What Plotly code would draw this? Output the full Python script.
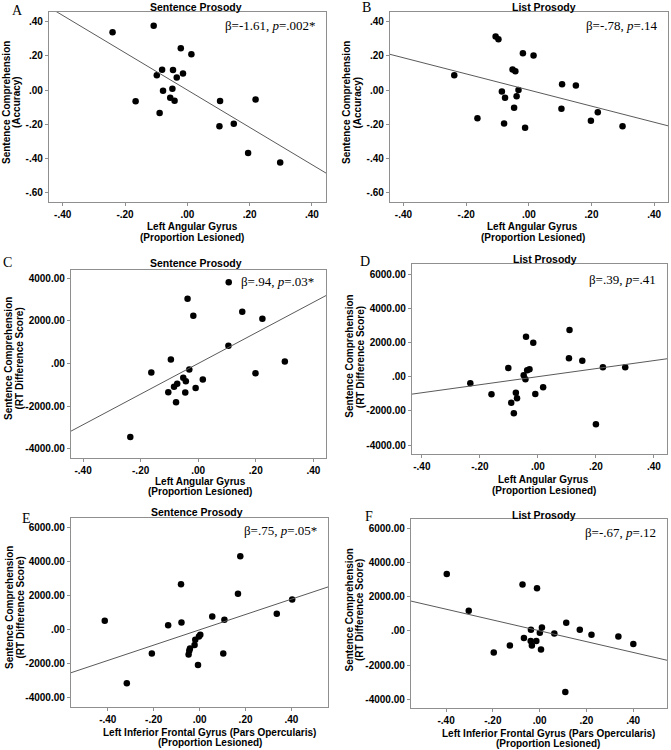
import numpy as np
import plotly.graph_objects as go

# ---------------- data ----------------
panel_letters = ["A", "B", "C", "D", "E", "F"]
panel_titles = ["Sentence Prosody", "List Prosody", "Sentence Prosody",
                "List Prosody", "Sentence Prosody", "List Prosody"]
stat_labels = ["β=-1.61, <i>p</i>=.002*", "β=-.78, <i>p</i>=.14",
               "β=.94, <i>p</i>=.03*", "β=.39, <i>p</i>=.41",
               "β=.75, <i>p</i>=.05*", "β=-.67, <i>p</i>=.12"]
x_titles = [["Left Angular Gyrus", "(Proportion Lesioned)"]] * 4 + \
           [["Left Inferior Frontal Gyrus (Pars Opercularis)", "(Proportion Lesioned)"]] * 2
y_titles = [["Sentence Comprehension", "(Accuracy)"]] * 2 + \
           [["Sentence Comprehension", "(RT Difference Score)"]] * 4

x_a = [-0.240, -0.108, -0.166, -0.089, -0.098, -0.081, -0.078, -0.046, -0.048, -0.055, -0.041,
       -0.034, -0.021, -0.014, 0.013, 0.105, 0.103, 0.149, 0.195, 0.219, 0.298]
y_a = [0.337, 0.376, -0.066, -0.134, 0.086, 0.119, -0.004, 0.117, 0.008, -0.045, -0.062,
       0.074, 0.244, 0.097, 0.209, -0.064, -0.212, -0.197, -0.368, -0.055, -0.423]

x_b = [-0.238, -0.164, -0.106, -0.097, -0.086, -0.079, -0.076, -0.052, -0.043, -0.047, -0.039,
       -0.033, -0.019, -0.012, 0.015, 0.106, 0.104, 0.150, 0.198, 0.220, 0.299]
y_b = [0.086, -0.164, 0.312, 0.296, -0.008, -0.195, -0.045, 0.119, 0.109, -0.103, -0.037,
       0.000, 0.214, -0.220, 0.201, 0.033, -0.109, 0.027, -0.179, -0.129, -0.211]

x_c = [-0.236, -0.163, -0.104, -0.095, -0.084, -0.077, -0.073, -0.052, -0.045, -0.043, -0.037,
       -0.031, -0.017, -0.009, 0.016, 0.106, 0.105, 0.153, 0.199, 0.223, 0.301]
y_c = [-3445, -423, -1347, 188, -1096, -1817, -955, -673, -1362, -830, 3038,
       -282, 2239, -1143, -752, 3805, 830, 2427, -454, 2098, 94]

x_d = [-0.233, -0.160, -0.102, -0.092, -0.083, -0.076, -0.072, -0.049, -0.043, -0.041, -0.037,
       -0.029, -0.016, -0.009, 0.018, 0.107, 0.109, 0.153, 0.200, 0.224, 0.301]
y_d = [-390, -1033, 507, -1520, -2144, -936, -1267, 78, -156, 2339, 370,
       429, 1988, -1013, -624, 1072, 2729, 935, -2787, 546, 546]

x_e = [-0.413, -0.317, -0.208, -0.137, -0.081, -0.079, -0.048, -0.042, -0.045, -0.022, -0.019,
       -0.007, -0.003, 0.003, 0.055, 0.108, 0.103, 0.167, 0.177, 0.336, 0.403]
y_e = [527, -3144, -1387, 273, 2676, 430, -1445, -1094, -1230, -898, -586,
       -2070, -391, -293, 781, 586, -1387, 2109, 4316, 937, 1777]

x_f = [-0.397, -0.303, -0.196, -0.127, -0.073, -0.067, -0.037, -0.038, -0.033, -0.014, -0.011,
       0.001, 0.006, 0.010, 0.063, 0.114, 0.110, 0.172, 0.222, 0.337, 0.401]
y_f = [3328, 1168, -1265, -856, 2705, -428, 58, -603, -856, -603, 2491,
       -117, -1090, 195, -156, 467, -3581, 58, -234, -331, -778]

# regression lines (slope, intercept)
fit_slopes = [-1.09, -0.47, 7175, 2350, 4500, -3160]
fit_intercepts = [0.0, 0.0, 0.0, 0.0, 0.0, 0.0]

x_tick_vals = [-0.4, -0.2, 0.0, 0.2, 0.4]
x_tick_text = ["-.40", "-.20", ".00", ".20", ".40"]
acc_tick_vals = [0.4, 0.2, 0.0, -0.2, -0.4, -0.6]
acc_tick_text = [".40", ".20", ".00", "-.20", "-.40", "-.60"]
rt4_tick_vals = [4000, 2000, 0, -2000, -4000]
rt4_tick_text = ["4000.00", "2000.00", ".00", "-2000.00", "-4000.00"]
rt6_tick_vals = [6000, 4000, 2000, 0, -2000, -4000]
rt6_tick_text = ["6000.00", "4000.00", "2000.00", ".00", "-2000.00", "-4000.00"]

xs = [x_a, x_b, x_c, x_d, x_e, x_f]
ys = [y_a, y_b, y_c, y_d, y_e, y_f]

# ---------------- layout (pixels) ----------------
W, H = 671, 750
frames = [(49, 326, 12, 202), (390, 668, 12, 202), (71, 326, 270, 458),
          (412, 667, 264, 454), (71, 328, 518, 707), (411, 667, 519, 708)]
x_ranges = [(-0.444, 0.445), (-0.443, 0.444), (-0.442, 0.444),
            (-0.434, 0.445), (-0.56, 0.559), (-0.55, 0.545)]
y_ranges = [(-0.654, 0.456), (-0.653, 0.455), (-4431, 4384),
            (-4522, 6588), (-4531, 6562), (-4515, 6539)]
y_ticks = [(acc_tick_vals, acc_tick_text)] * 2 + [(rt4_tick_vals, rt4_tick_text)] + \
          [(rt6_tick_vals, rt6_tick_text)] * 3

title_pos = [(195.5, 6.7), (544, 7), (196, 263.3), (545, 259.3), (197, 512.3), (544, 515)]
letter_pos = [(17, 10.3), (366.7, 7.3), (7, 262.3), (365, 261), (26, 518.3), (368.7, 516.8)]
stat_pos = [(318, 25.7), (660, 25.7), (316, 281.7), (658, 279), (319, 530), (657.7, 532.3)]
ytitle_pos = [((6.5, 16.5), 102.5), ((346.5, 357), 102.5), ((8, 18.5), 359),
              ((350, 360.5), 356.7), ((9, 19.5), 608), ((348.5, 359), 610)]
xtitle_pos = [(192.3, (226.7, 237.3)), (532.5, (226.7, 237.8)), (200, (481, 491.7)),
              (543.5, (479.3, 490)), (209.7, (732.3, 742.5)), (548, (733.7, 743.5))]


def px(x):
    return x / W


def py(y):
    return 1 - y / H


sans = "Liberation Sans, Arial, sans-serif"
serif = "Liberation Serif, Times New Roman, serif"
frame_col = "#8f8f8f"

fig = go.Figure()
annotations = []
layout_axes = {}

for i in range(6):
    n = "" if i == 0 else str(i + 1)
    xa, ya = "x" + n, "y" + n
    l, r, t, b = frames[i]
    xr, yr = x_ranges[i], y_ranges[i]

    fig.add_trace(go.Scatter(
        x=xs[i], y=ys[i], mode="markers", xaxis=xa, yaxis=ya,
        marker=dict(color="black", size=6.5), showlegend=False, hoverinfo="x+y"))

    lx = np.array([xr[0], xr[1]])
    ly = fit_slopes[i] * lx + fit_intercepts[i]
    fig.add_trace(go.Scatter(
        x=lx, y=ly, mode="lines", xaxis=xa, yaxis=ya,
        line=dict(color="#5a5a5a", width=1), showlegend=False, hoverinfo="skip"))

    common = dict(showline=True, mirror=True, linecolor=frame_col, linewidth=1.3,
                  ticks="outside", ticklen=3, tickwidth=1, tickcolor=frame_col,
                  showgrid=False, zeroline=False,
                  tickfont=dict(family=sans, size=10, color="black", weight="bold"))
    layout_axes["xaxis" + n] = dict(common, domain=[px(l), px(r)], range=list(xr),
                                    anchor=ya, tickvals=x_tick_vals, ticktext=x_tick_text)
    layout_axes["yaxis" + n] = dict(common, domain=[py(b), py(t)], range=list(yr),
                                    anchor=xa, tickvals=y_ticks[i][0], ticktext=y_ticks[i][1])

    # panel title
    annotations.append(dict(text=panel_titles[i], x=px(title_pos[i][0]), y=py(title_pos[i][1]),
                            xref="paper", yref="paper", showarrow=False,
                            xanchor="center", yanchor="middle",
                            font=dict(family=sans, size=10.5, color="black", weight="bold")))
    # panel letter
    annotations.append(dict(text=panel_letters[i], x=px(letter_pos[i][0]), y=py(letter_pos[i][1]),
                            xref="paper", yref="paper", showarrow=False,
                            xanchor="center", yanchor="middle",
                            font=dict(family=serif, size=14, color="black")))
    # stats
    annotations.append(dict(text=stat_labels[i], x=px(stat_pos[i][0]), y=py(stat_pos[i][1]),
                            xref="paper", yref="paper", showarrow=False,
                            xanchor="right", yanchor="middle",
                            font=dict(family=serif, size=13, color="black")))
    # y title (two lines)
    for k in range(2):
        annotations.append(dict(text=y_titles[i][k], x=px(ytitle_pos[i][0][k]),
                                y=py(ytitle_pos[i][1]), xref="paper", yref="paper",
                                showarrow=False, textangle=-90,
                                xanchor="center", yanchor="middle",
                                font=dict(family=sans, size=10, color="black", weight="bold")))
    # x title (two lines)
    for k in range(2):
        annotations.append(dict(text=x_titles[i][k], x=px(xtitle_pos[i][0]),
                                y=py(xtitle_pos[i][1][k]), xref="paper", yref="paper",
                                showarrow=False, xanchor="center", yanchor="middle",
                                font=dict(family=sans, size=10, color="black", weight="bold")))

fig.update_layout(width=W, height=H, margin=dict(l=0, r=0, t=0, b=0),
                  paper_bgcolor="white", plot_bgcolor="white",
                  annotations=annotations, **layout_axes)

fig.write_html("out.html", config={"displayModeBar": False},
               post_script="document.body.style.margin='0';document.body.style.overflow='hidden';")
